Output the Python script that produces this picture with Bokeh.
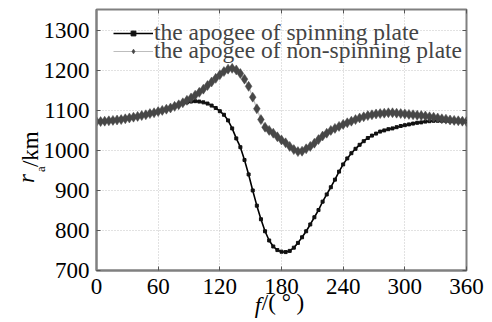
import math
from bokeh.plotting import figure
from bokeh.models import (Legend, LegendItem, FixedTicker, LinearAxis, Range1d,
                          ColumnDataSource, CustomJSTickFormatter)
from bokeh.embed import file_html
from bokeh.resources import INLINE

# ---------------- data ----------------
f_deg = list(range(0, 361, 4))

spinning = [
    1072, 1072, 1073, 1074, 1075, 1076, 1078, 1079, 1081, 1083,   # 0-36
    1085, 1087, 1089, 1092, 1094, 1097, 1100, 1103, 1107, 1110,   # 40-76
    1114, 1118, 1120, 1122, 1123, 1122, 1120, 1117, 1112, 1106,   # 80-116
    1098, 1089, 1075, 1055, 1030, 1008, 976, 940, 900, 862,       # 120-156
    828, 798, 775, 760, 751, 747, 746, 749, 757, 769,             # 160-196
    783, 798, 815, 833, 851, 872, 890, 908, 927, 947,             # 200-236
    965, 980, 993, 1004, 1014, 1023, 1031, 1037, 1042, 1047,      # 240-276
    1050, 1053, 1055, 1058, 1061, 1063, 1065, 1067, 1069, 1070,   # 280-316
    1072, 1073, 1074, 1074, 1074, 1074, 1073, 1073, 1072, 1072,   # 320-356
    1072,                                                         # 360
]

non_spinning = [
    1072, 1072, 1073, 1074, 1075, 1076, 1077, 1079, 1081, 1083,   # 0-36
    1085, 1087, 1089, 1092, 1094, 1097, 1100, 1103, 1106, 1110,   # 40-76
    1114, 1119, 1125, 1131, 1138, 1145, 1153, 1162, 1171, 1180,   # 80-116
    1189, 1197, 1203, 1205, 1201, 1192, 1178, 1160, 1133, 1104,   # 120-156
    1077, 1058, 1050, 1043, 1034, 1026, 1019, 1010, 1002, 997,    # 160-196
    998, 1004, 1010, 1018, 1027, 1036, 1043, 1050, 1055, 1060,    # 200-236
    1065, 1069, 1073, 1077, 1081, 1084, 1087, 1089, 1091, 1092,   # 240-276
    1093, 1094, 1094, 1093, 1092, 1091, 1090, 1089, 1088, 1087,   # 280-316
    1086, 1084, 1083, 1081, 1079, 1078, 1076, 1075, 1074, 1073,   # 320-356
    1072,                                                         # 360
]

x_ticks = [0, 60, 120, 180, 240, 300, 360]
y_ticks = [700, 800, 900, 1000, 1100, 1200, 1300]
legend_labels = ["the apogee of spinning plate", "the apogee of non-spinning plate"]

# axis-title pieces: (text, position along the axis in data units)
x_title_main = ("f", 157.0)          # italic
x_title_unit = ("/( \u00b0 )", 181.5)
y_title_main = ("r", 930.0)          # italic
y_title_sub = ("a", 953.0)           # subscript
y_title_unit = ("/km", 1003.0)

FONT = "Liberation Serif"
GRAY = "#808080"
TICK = "#555555"

src = ColumnDataSource(dict(f=f_deg, s=spinning, n=non_spinning))

p = figure(width=492, height=322, x_range=Range1d(0, 360), y_range=Range1d(700, 1352),
           output_backend="svg", toolbar_location=None,
           min_border_left=96, min_border_right=26, min_border_top=9, min_border_bottom=52)

p.background_fill_color = "white"
p.border_fill_color = "white"
p.outline_line_color = GRAY
p.outline_line_width = 2

for ax, st in ((p.xaxis[0], 8), (p.yaxis[0], 7)):
    ax.major_label_text_font = FONT
    ax.major_label_text_font_size = "23px"
    ax.major_label_text_color = "black"
    ax.axis_line_color = GRAY
    ax.axis_line_width = 2
    ax.major_tick_in = 4
    ax.major_tick_out = 0
    ax.major_tick_line_color = TICK
    ax.minor_tick_line_color = None
    ax.major_label_standoff = st
p.xaxis.ticker = FixedTicker(ticks=x_ticks)
p.yaxis.ticker = FixedTicker(ticks=y_ticks)

blank = CustomJSTickFormatter(code="return ''")
top = LinearAxis(ticker=FixedTicker(ticks=x_ticks), formatter=blank,
                 major_tick_in=4, major_tick_out=0, major_label_standoff=0,
                 axis_line_color=None, minor_tick_line_color=None,
                 major_tick_line_color=TICK)
right = LinearAxis(ticker=FixedTicker(ticks=y_ticks), formatter=blank,
                   major_tick_in=4, major_tick_out=0, major_label_standoff=0,
                   axis_line_color=None, minor_tick_line_color=None,
                   major_tick_line_color=TICK)
p.add_layout(top, "above")
p.add_layout(right, "right")


def title_axis(piece, size, italic, standoff, vertical=False):
    text, pos = piece
    ax = LinearAxis(ticker=FixedTicker(ticks=[pos]), major_label_overrides={pos: text},
                    axis_line_color=None, major_tick_line_color=None,
                    minor_tick_line_color=None, major_tick_in=0, major_tick_out=0,
                    major_label_standoff=standoff,
                    major_label_text_font=FONT, major_label_text_font_size=size,
                    major_label_text_color="black",
                    major_label_text_font_style="italic" if italic else "normal")
    if vertical:
        ax.major_label_orientation = "vertical"
    return ax


# x title: "/( ° )" then italic "f" drawn on the same row
p.add_layout(title_axis(x_title_unit, "23px", False, -7), "below")
p.add_layout(title_axis(x_title_main, "23px", True, -25), "below")
# y title: subscript "a", "/km", italic "r" on one vertical line
p.add_layout(title_axis(y_title_sub, "13px", False, -8, True), "left")
p.add_layout(title_axis(y_title_unit, "23px", False, -13, True), "left")
p.add_layout(title_axis(y_title_main, "23px", True, -24, True), "left")

p.xgrid.ticker = FixedTicker(ticks=x_ticks)
p.ygrid.ticker = FixedTicker(ticks=y_ticks)
for g in (p.xgrid[0], p.ygrid[0]):
    g.grid_line_color = "#c4c4c4"
    g.grid_line_dash = "1 2"
    g.grid_line_width = 1

# series
s_line = p.line("f", "s", source=src, line_color="black", line_width=1.6)
s_mark = p.scatter("f", "s", source=src, marker="square", size=3,
                   fill_color="#111111", line_color="#111111")
n_line = p.line("f", "n", source=src, line_color="#bdbdbd", line_width=1.2)
n_mark = p.scatter("f", "n", source=src, marker="diamond", size=10,
                   fill_color="#474747", line_color="#474747", line_width=0.5)

common = dict(padding=0, margin=0, glyph_width=40, glyph_height=12, label_height=12,
              label_standoff=1, label_text_font=FONT, label_text_font_size="23.5px",
              border_line_color=None, background_fill_alpha=0)
leg1 = Legend(items=[LegendItem(label=legend_labels[0], renderers=[s_line, s_mark])],
              location=(17, 224), **common)
leg2 = Legend(items=[LegendItem(label=legend_labels[1], renderers=[n_line, n_mark])],
              location=(17, 206), **common)
p.add_layout(leg1, "center")
p.add_layout(leg2, "center")

open("out.html", "w").write(file_html(p, INLINE))
